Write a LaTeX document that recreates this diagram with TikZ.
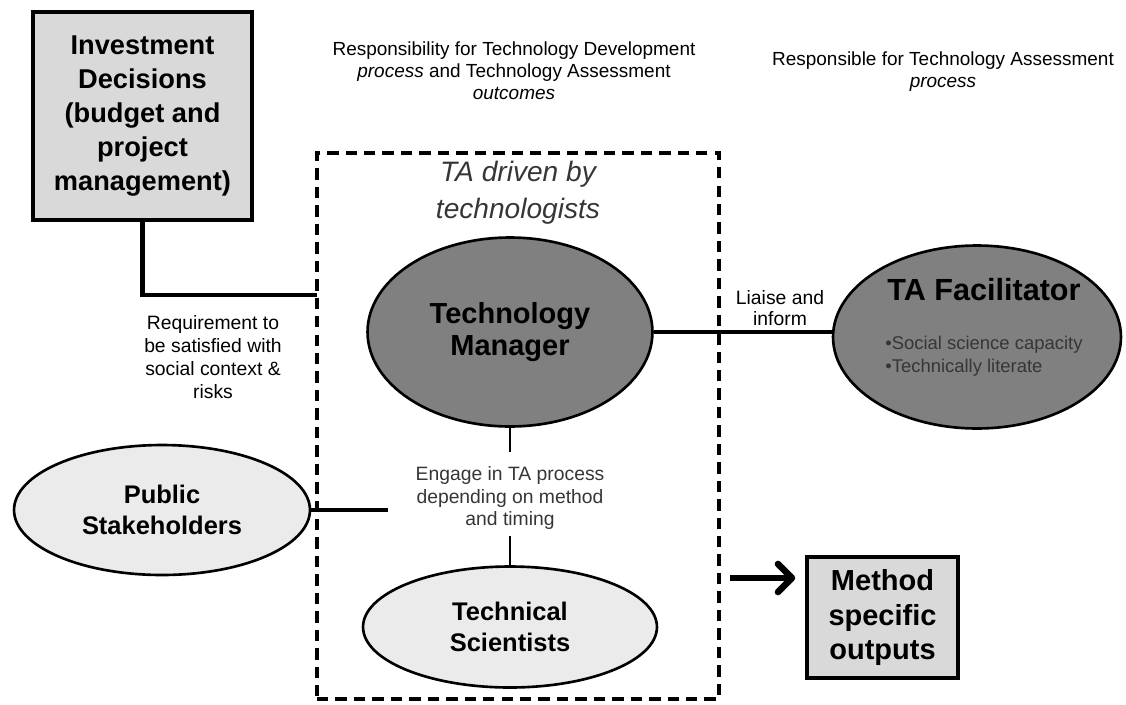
\documentclass[tikz,border=0pt]{standalone}
\usepackage{fontspec}
\setmainfont{Liberation Sans}
\usetikzlibrary{shapes.geometric,arrows.meta}

\definecolor{boxgray}{HTML}{D9D9D9}
\definecolor{darkfill}{HTML}{808080}
\definecolor{lightfill}{HTML}{EBEBEB}
\definecolor{softtext}{HTML}{363636}

\begin{document}
\begin{tikzpicture}[x=0.02cm,y=-0.02cm,
  squarebox/.style={draw, line width=2pt, fill=boxgray, inner sep=0pt, align=center},
  darkell/.style={draw, ellipse, line width=1.5pt, fill=darkfill, inner sep=0pt, align=center},
  lightell/.style={draw, ellipse, line width=1.5pt, fill=lightfill, inner sep=0pt, align=center},
  link/.style={line width=1.9pt},
  note/.style={align=center, inner sep=2pt, font=\fontsize{11}{13}\selectfont}]
\useasboundingbox (0,0) rectangle (1126,704);

% dashed region
\node[draw, dash pattern=on 6.5pt off 4pt, line width=1.9pt, minimum width=8.04cm, minimum height=10.92cm, inner sep=0pt] (tabox) at (518,426) {};

\node[squarebox, minimum width=4.38cm, minimum height=4.16cm, font=\bfseries\fontsize{15.5}{19.3}\selectfont] (invest) at (142.5,116) {Investment\\Decisions\\(budget and\\project\\management)};
\node[squarebox, minimum width=3.02cm, minimum height=2.42cm, font=\bfseries\fontsize{16.5}{19.5}\selectfont] (method) at (882.5,617.5) {Method\\specific\\outputs};

\node[darkell, minimum width=5.7cm, minimum height=3.78cm, font=\bfseries\fontsize{16.5}{18.2}\selectfont] (tm) at (510,332) {Technology\\Manager};
\node[darkell, minimum width=5.76cm, minimum height=3.66cm] (taf) at (977,337) {};
\node[font=\bfseries\fontsize{17.4}{20}\selectfont] (taftitle) at (984,290) {TA Facilitator};
\node[anchor=west, align=left, inner sep=0pt, text=softtext, font=\fontsize{10.5}{13}\selectfont] (tafpoints) at (885,356) {•Social science capacity\\•Technically literate};

\node[lightell, minimum width=5.92cm, minimum height=2.6cm, font=\bfseries\fontsize{14.5}{18}\selectfont] (pub) at (162,510) {Public\\Stakeholders};
\node[lightell, minimum width=5.88cm, minimum height=2.42cm, font=\bfseries\fontsize{14.5}{18}\selectfont] (tech) at (510,627) {Technical\\Scientists};

% texts
\node[note, font=\fontsize{10.8}{12.5}\selectfont] (devresp) at (514,71) {Responsibility for Technology Development\\\textit{process} and Technology Assessment\\\textit{outcomes}};
\node[note, font=\fontsize{10.8}{12.5}\selectfont] (assresp) at (943,72) {Responsible for Technology Assessment\\\textit{process}};
\node[align=center, text=softtext, font=\itshape\fontsize{16}{21}\selectfont] (driven) at (518,193) {TA driven by\\technologists};
\node[note] (require) at (213,357) {Requirement to\\be satisfied with\\social context \&\\risks};
\node[note, font=\fontsize{11}{11.6}\selectfont] (liaise) at (780,308) {Liaise and\\inform};
\node[note, text=softtext, inner xsep=3pt, inner ysep=3.4pt] (engage) at (510,498) {Engage in TA process\\depending on method\\and timing};

\coordinate (reqmeet) at (317,295);
\coordinate (pubend) at (388,510);
\coordinate (outstart) at (730,578);

% connectors
\draw[link, line width=2.7pt] (invest.south) |- (reqmeet);
\draw[link] (tm.east) -- (tm.east -| taf.west);
\draw[link, line width=1.6pt, shorten >=4.5pt] (tm) -- (engage);
\draw[link, line width=1.6pt] (engage) -- (tech);
\draw[link] (pub) -- (pubend);
\draw[line width=3.7pt, shorten >=5.7pt, -{Straight Barb[length=8pt,width=16pt,round]}] (outstart) -- (outstart -| method.west);
\end{tikzpicture}
\end{document}
